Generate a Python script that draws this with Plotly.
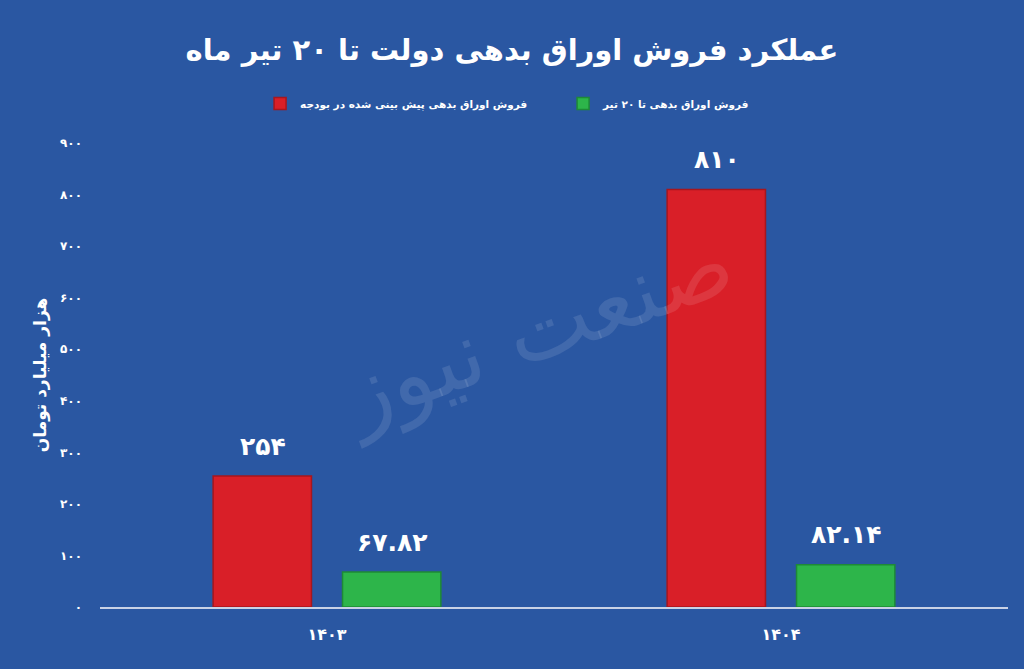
import plotly.graph_objects as go

years = ["۱۴۰۳", "۱۴۰۴"]
budget_name = "فروش اوراق بدهی پیش بینی شده در بودجه"
sold_name = "فروش اوراق بدهی تا ۲۰ تیر"
budget_values = [254, 810]
sold_values = [67.82, 82.14]
budget_labels = ["۲۵۴", "۸۱۰"]
sold_labels = ["۶۷.۸۲", "۸۲.۱۴"]
y_ticks = [0, 100, 200, 300, 400, 500, 600, 700, 800, 900]
y_tick_labels = ["۰", "۱۰۰", "۲۰۰", "۳۰۰", "۴۰۰", "۵۰۰", "۶۰۰", "۷۰۰", "۸۰۰", "۹۰۰"]
title_text = "عملکرد فروش اوراق بدهی دولت تا ۲۰ تیر ماه"
y_title = "هزار میلیارد تومان"

BG = "#2A57A2"
RED = "#D91F28"
GREEN = "#2DB54A"
FONT = "DejaVu Sans"

fig = go.Figure()
fig.add_trace(go.Bar(
    x=years, y=budget_values, name=budget_name,
    marker=dict(color=RED, line=dict(color="#A8161D", width=1.5)),
    hoverinfo="skip",
))
fig.add_trace(go.Bar(
    x=years, y=sold_values, name=sold_name,
    marker=dict(color=GREEN, line=dict(color="#1E8A36", width=1.5)),
    hoverinfo="skip",
))

# value labels above bars
for i, yr in enumerate(years):
    fig.add_annotation(x=yr, y=budget_values[i], xref="x", yref="y",
                       text=budget_labels[i], showarrow=False, xshift=-64, yshift=30,
                       font=dict(family=FONT, size=25, color="white", weight="bold"))
    fig.add_annotation(x=yr, y=sold_values[i], xref="x", yref="y",
                       text=sold_labels[i], showarrow=False, xshift=65, yshift=30,
                       font=dict(family=FONT, size=25, color="white", weight="bold"))

# faint watermark
fig.add_annotation(x=0.48, y=0.6, xref="paper", yref="paper",
                   text="صنعت نیوز", showarrow=False, textangle=-20,
                   font=dict(family=FONT, size=90, color="rgba(255,255,255,0.11)"))

fig.update_layout(
    width=1024, height=669,
    paper_bgcolor=BG, plot_bgcolor=BG,
    margin=dict(l=100, r=16, t=143, b=62),
    barmode="group", bargap=0.43, bargroupgap=0.24,
    title=dict(text=title_text, x=0.5, xanchor="center", y=0.925, yanchor="middle",
               font=dict(family=FONT, size=29, color="white", weight="bold")),
    legend=dict(orientation="h", x=0.51, xanchor="center", y=1.085, yanchor="middle",
                font=dict(family=FONT, size=10.5, color="white", weight="bold"),
                bgcolor="rgba(0,0,0,0)", traceorder="normal", itemwidth=30,
                entrywidth=258, entrywidthmode="pixels"),
    font=dict(family=FONT, color="white"),
    showlegend=True,
)
fig.update_xaxes(type="category", showline=True, linecolor="#C9D2E6", linewidth=2,
                 showgrid=False, ticks="", ticklabelstandoff=12,
                 tickfont=dict(family=FONT, size=16, color="white", weight="bold"))
fig.update_yaxes(range=[0, 900], tickvals=y_ticks, ticktext=y_tick_labels,
                 showgrid=False, zeroline=False, showline=False, ticks="",
                 ticklabelstandoff=17,
                 tickfont=dict(family=FONT, size=12, color="white", weight="bold"),
                 title=dict(text=y_title, standoff=9,
                            font=dict(family=FONT, size=17, color="white", weight="bold")))

fig.write_html("out.html", config={"displayModeBar": False},
               post_script="document.body.style.margin='0';")
